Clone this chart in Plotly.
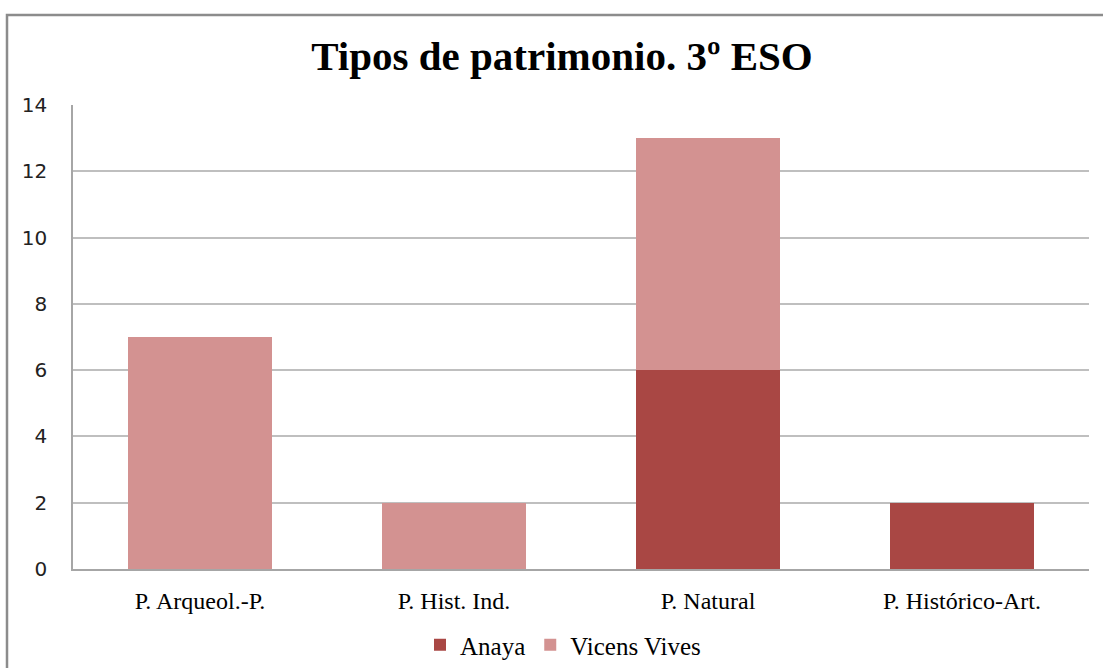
import plotly.graph_objects as go

categories = ["P. Arqueol.-P.", "P. Hist. Ind.", "P. Natural", "P. Histórico-Art."]
anaya = [0, 0, 6, 2]
vicens_vives = [7, 2, 7, 0]
y_ticks = [0, 2, 4, 6, 8, 10, 12, 14]

W, H = 1103, 668
L, R, T, B = 73, 14, 105, 99
pw, ph = W - L - R, H - T - B

def px(x):
    return (x - L) / pw

def py(y):
    return (H - B - y) / ph

fig = go.Figure()
fig.add_trace(go.Bar(x=categories, y=anaya, name="Anaya", marker_color="#A94744",
                     marker_line_width=0))
fig.add_trace(go.Bar(x=categories, y=vicens_vives, name="Vicens Vives", marker_color="#D39291",
                     marker_line_width=0))

fig.update_layout(
    width=W, height=H,
    barmode="stack",
    bargap=0.43,
    margin=dict(l=L, r=R, t=T, b=B, pad=0, autoexpand=False),
    paper_bgcolor="white",
    plot_bgcolor="white",
    title=dict(text="<b>Tipos de patrimonio. 3º ESO</b>", x=562 / W, xanchor="center",
               y=1 - 56 / H, yanchor="middle",
               font=dict(family="Liberation Serif, Times New Roman, serif", size=41, color="black")),
    xaxis=dict(showgrid=False, showline=True, linecolor="#a6a6a6", linewidth=1.5,
               automargin=False,
               ticks="", tickfont=dict(family="Liberation Serif, serif", size=24, color="black"),
               ticklabelstandoff=9),
    yaxis=dict(range=[0, 14], tickvals=y_ticks, showgrid=True, gridcolor="#bfbfbf", gridwidth=1.5,
               showline=True, linecolor="#a6a6a6", linewidth=1.5, zeroline=False,
               automargin=False,
               ticks="", tickfont=dict(family="DejaVu Sans", size=20, color="#222"),
               ticklabelstandoff=20),
    legend=dict(orientation="h", x=563 / W, xref="container", xanchor="center",
                y=1 - 645 / H, yref="container", yanchor="middle",
                font=dict(family="Liberation Serif, serif", size=25, color="black"),
                itemwidth=30, traceorder="normal"),
    shapes=[dict(type="rect", xref="paper", yref="paper",
                 x0=px(7), x1=px(1115), y0=py(680), y1=py(15),
                 line=dict(color="#8c8c8c", width=2.5), fillcolor="rgba(0,0,0,0)", layer="below")],
)

fig.write_html("out.html", config={"displayModeBar": False},
               post_script="document.body.style.margin='0';")
